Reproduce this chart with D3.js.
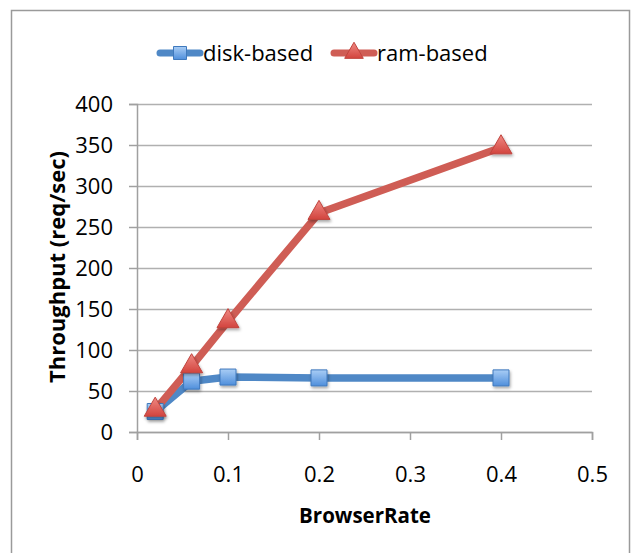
<!DOCTYPE html>
<html>
<head>
<meta charset="utf-8">
<script src="https://cdn.jsdelivr.net/npm/d3@7"></script>
<style>
  body { margin: 0; background: #fff; }
  text { font-family: "Open Sans", "Liberation Sans", sans-serif; fill: #000; }
</style>
</head>
<body>
<svg id="chart" width="632" height="553"></svg>
<script>
// data
var rates = [0.02, 0.06, 0.1, 0.2, 0.4];
var diskBased = [25, 62, 67, 66, 66];
var ramBased = [27, 80, 135, 267, 347];
var xTicks = [0, 0.1, 0.2, 0.3, 0.4, 0.5];
var yTicks = [0, 50, 100, 150, 200, 250, 300, 350, 400];

var svg = d3.select("#chart");

// outer frame of the chart area
svg.append("rect")
    .attr("x", 11.5).attr("y", 10.5)
    .attr("width", 618).attr("height", 560)
    .attr("fill", "#fff")
    .attr("stroke", "#9a9a9a")
    .attr("stroke-width", 1.5);

var x = d3.scaleLinear().domain([0, 0.5]).range([137, 592]);
var y = d3.scaleLinear().domain([0, 400]).range([432, 104]);

// shadow under markers
var defs = svg.append("defs");
var f = defs.append("filter").attr("id", "shadow")
    .attr("x", "-50%").attr("y", "-50%").attr("width", "200%").attr("height", "200%");
f.append("feDropShadow").attr("dx", 1).attr("dy", 2).attr("stdDeviation", 1.5)
    .attr("flood-color", "#000").attr("flood-opacity", 0.35);

var gb = defs.append("linearGradient").attr("id", "blueFill")
    .attr("x1", 0).attr("y1", 0).attr("x2", 0).attr("y2", 1);
gb.append("stop").attr("offset", "0%").attr("stop-color", "#a9cdf5");
gb.append("stop").attr("offset", "100%").attr("stop-color", "#4f8fdc");

var gr = defs.append("linearGradient").attr("id", "redFill")
    .attr("x1", 0).attr("y1", 0).attr("x2", 0).attr("y2", 1);
gr.append("stop").attr("offset", "0%").attr("stop-color", "#f08a84");
gr.append("stop").attr("offset", "100%").attr("stop-color", "#d2443e");

// horizontal gridlines
svg.append("g")
    .attr("transform", "translate(" + x(0) + ",0)")
    .call(d3.axisLeft(y).tickValues(yTicks).tickSize(-(x(0.5) - x(0))).tickFormat(""))
    .call(function(g) {
        g.select(".domain").remove();
        g.selectAll("line").attr("stroke", "#b0b0b0").attr("stroke-width", 1.5);
    });

// y axis
svg.append("g")
    .attr("transform", "translate(" + x(0) + ",0)")
    .call(d3.axisLeft(y).tickValues(yTicks).tickSize(8).tickPadding(16))
    .call(function(g) {
        g.select(".domain").attr("stroke", "#a0a0a0").attr("stroke-width", 1.5);
        g.selectAll("line").attr("stroke", "#a0a0a0").attr("stroke-width", 1.5);
        g.selectAll("text").attr("font-size", 22)
            .attr("font-family", "'Open Sans', 'Liberation Sans', sans-serif");
    });

// x axis
svg.append("g")
    .attr("transform", "translate(0," + y(0) + ")")
    .call(d3.axisBottom(x).tickValues(xTicks).tickSize(8).tickPadding(26)
        .tickFormat(function(d) { return d === 0 ? "0" : d3.format(".1f")(d); }))
    .call(function(g) {
        g.select(".domain").attr("stroke", "#a0a0a0").attr("stroke-width", 1.5);
        g.selectAll("line").attr("stroke", "#a0a0a0").attr("stroke-width", 1.5);
        g.selectAll("text").attr("font-size", 22)
            .attr("font-family", "'Open Sans', 'Liberation Sans', sans-serif");
    });

// axis titles
svg.append("text")
    .attr("x", 365).attr("y", 523)
    .attr("text-anchor", "middle")
    .attr("font-size", 20.5).attr("font-weight", "bold")
    .text("BrowserRate");

svg.append("text")
    .attr("transform", "translate(65,267) rotate(-90)")
    .attr("text-anchor", "middle")
    .attr("font-size", 22).attr("font-weight", "bold")
    .text("Throughput (req/sec)");

var line = d3.line()
    .x(function(d) { return x(d[0]); })
    .y(function(d) { return y(d[1]); });

var series = [
    { name: "disk-based", values: diskBased, color: "#4f88c6", marker: "square", fill: "url(#blueFill)", edge: "#3f79bd" },
    { name: "ram-based", values: ramBased, color: "#cf5d55", marker: "triangle", fill: "url(#redFill)", edge: "#c0443d" }
];

var squareSym = d3.symbol().type(d3.symbolSquare).size(256);
var triSym = d3.symbol().type(d3.symbolTriangle).size(210);

series.forEach(function(s) {
    var pts = rates.map(function(r, i) { return [r, s.values[i]]; });
    svg.append("path")
        .datum(pts)
        .attr("d", line)
        .attr("fill", "none")
        .attr("stroke", s.color)
        .attr("stroke-width", 7.5)
        .attr("stroke-linejoin", "round");
});

series.forEach(function(s) {
    var pts = rates.map(function(r, i) { return [r, s.values[i]]; });
    svg.append("g").selectAll("path")
        .data(pts)
        .enter()
        .append("path")
        .attr("d", s.marker === "square" ? squareSym : triSym)
        .attr("transform", function(d) { return "translate(" + x(d[0]) + "," + y(d[1]) + ")"; })
        .attr("fill", s.fill)
        .attr("stroke", s.edge)
        .attr("stroke-width", 1)
        .attr("filter", "url(#shadow)");
});

// legend
var legendPos = [160, 334];
series.forEach(function(s, i) {
    var lg = svg.append("g").attr("transform", "translate(" + legendPos[i] + ",53)");
    lg.append("line")
        .attr("x1", 0).attr("x2", 40).attr("y1", 0).attr("y2", 0)
        .attr("stroke", s.color).attr("stroke-width", 7).attr("stroke-linecap", "round");
    lg.append("path")
        .attr("d", s.marker === "square" ? d3.symbol().type(d3.symbolSquare).size(169) : d3.symbol().type(d3.symbolTriangle).size(150))
        .attr("transform", "translate(20,0)")
        .attr("fill", s.fill)
        .attr("stroke", s.edge)
        .attr("stroke-width", 1);
    lg.append("text")
        .attr("x", 43).attr("y", 8)
        .attr("font-size", 22)
        .text(s.name);
});
</script>
</body>
</html>
